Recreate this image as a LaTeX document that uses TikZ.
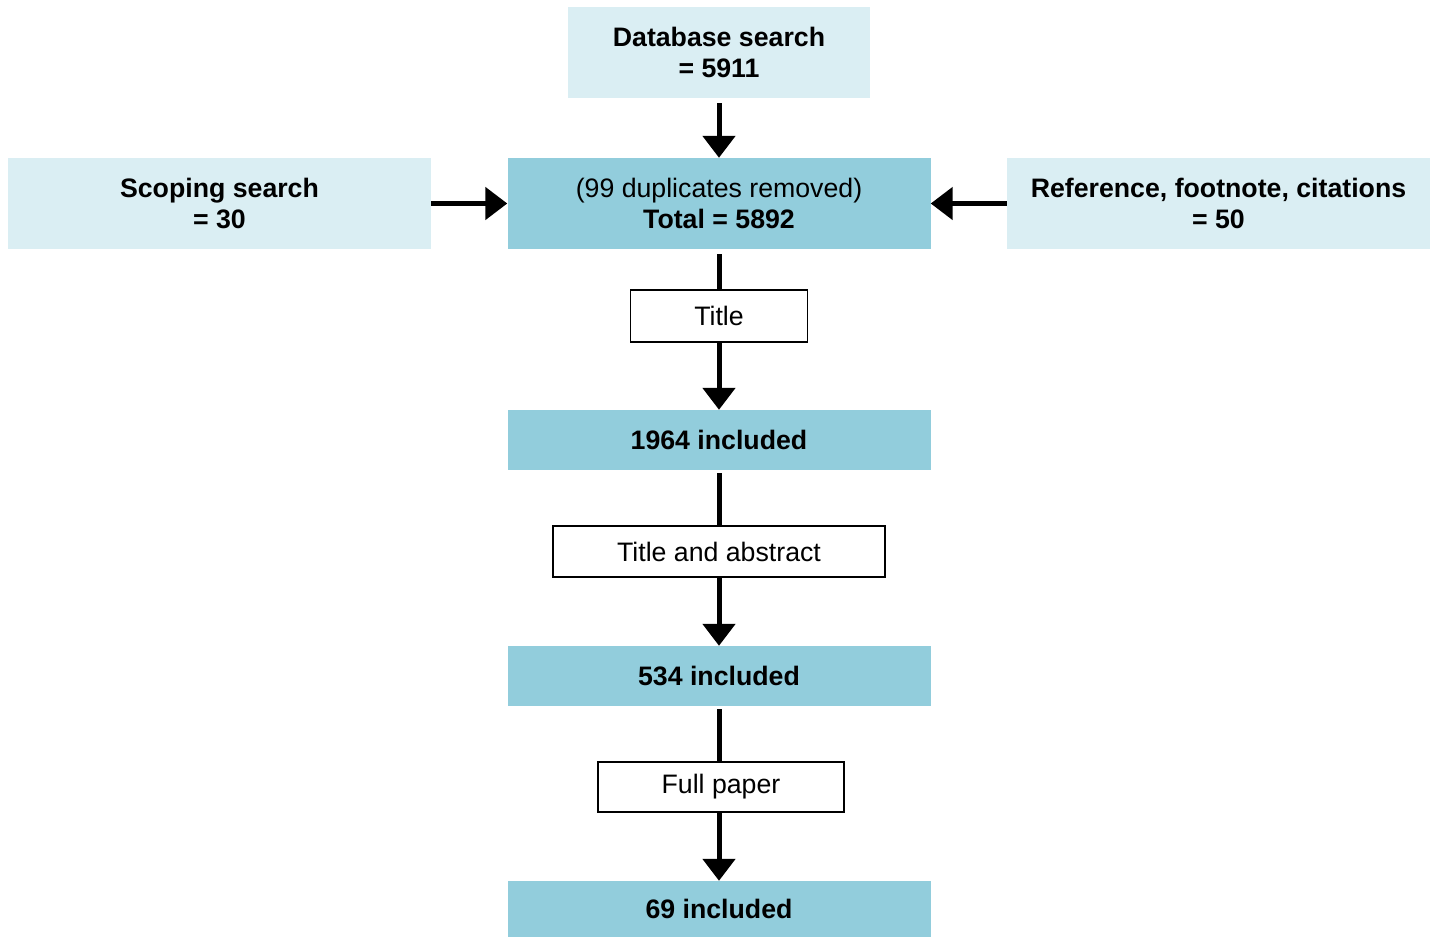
\documentclass[tikz,border=0pt]{standalone}
\usepackage{fontspec}
\setmainfont{Liberation Sans}
\usetikzlibrary{arrows.meta}
\definecolor{darkbox}{RGB}{146,205,220}
\definecolor{lightbox}{RGB}{218,238,243}
\tikzset{
  base/.style={rectangle, inner sep=0pt, align=center, font=\fontsize{26.7}{31}\selectfont},
  darkb/.style={base, fill=darkbox},
  lightb/.style={base, fill=lightbox},
  stagebox/.style={base, draw=black, line width=1.5pt, fill=white},
  conn/.style={line width=5pt},
  arr/.style={line width=5pt, -{Triangle[width=32pt,length=22pt]}}
}
\begin{document}
\begin{tikzpicture}[x=1pt,y=-1pt]
\useasboundingbox (0,0) rectangle (1436,937);
\node[lightb, minimum width=302pt, minimum height=91pt] (db) at (719,52.5) {\textbf{Database search}\\\textbf{= 5911}};
\node[darkb, minimum width=423pt, minimum height=91pt] (tot) at (719,203.5) {(99 duplicates removed)\\\textbf{Total = 5892}};
\node[lightb, minimum width=423pt, minimum height=91pt] (scope) at (219.5,203.5) {\textbf{Scoping search}\\\textbf{= 30}};
\node[lightb, minimum width=423pt, minimum height=91pt] (ref) at (1218.5,203.5) {\textbf{Reference, footnote, citations}\\\textbf{= 50}};
\node[stagebox, minimum width=177pt, minimum height=52pt] (title) at (719,316) {Title};
\node[darkb, minimum width=423pt, minimum height=60pt] (inc1) at (719,440) {\textbf{1964 included}};
\node[stagebox, minimum width=332pt, minimum height=51pt] (abs) at (719,551.5) {Title and abstract};
\node[darkb, minimum width=423pt, minimum height=60pt] (inc2) at (719,676) {\textbf{534 included}};
\node[stagebox, minimum width=246pt, minimum height=50pt] (full) at (721,787) {Full paper};
\node[darkb, minimum width=423pt, minimum height=56pt] (inc3) at (719,909) {\textbf{69 included}};
\draw[arr, shorten <=5pt] (db.south) -- (tot.north);
\draw[arr] (scope.east) -- (tot.west);
\draw[arr] (ref.west) -- (tot.east);
\draw[conn, shorten <=5pt] (tot.south) -- (title.north);
\draw[arr] (title.south) -- (inc1.north);
\draw[conn, shorten <=3pt] (inc1.south) -- (abs.north);
\draw[arr] (abs.south) -- (inc2.north);
\draw[conn, shorten <=3pt] (inc2.south) -- (inc2.south |- full.north);
\draw[arr] (inc2.south |- full.south) -- (inc3.north);
\end{tikzpicture}
\end{document}
